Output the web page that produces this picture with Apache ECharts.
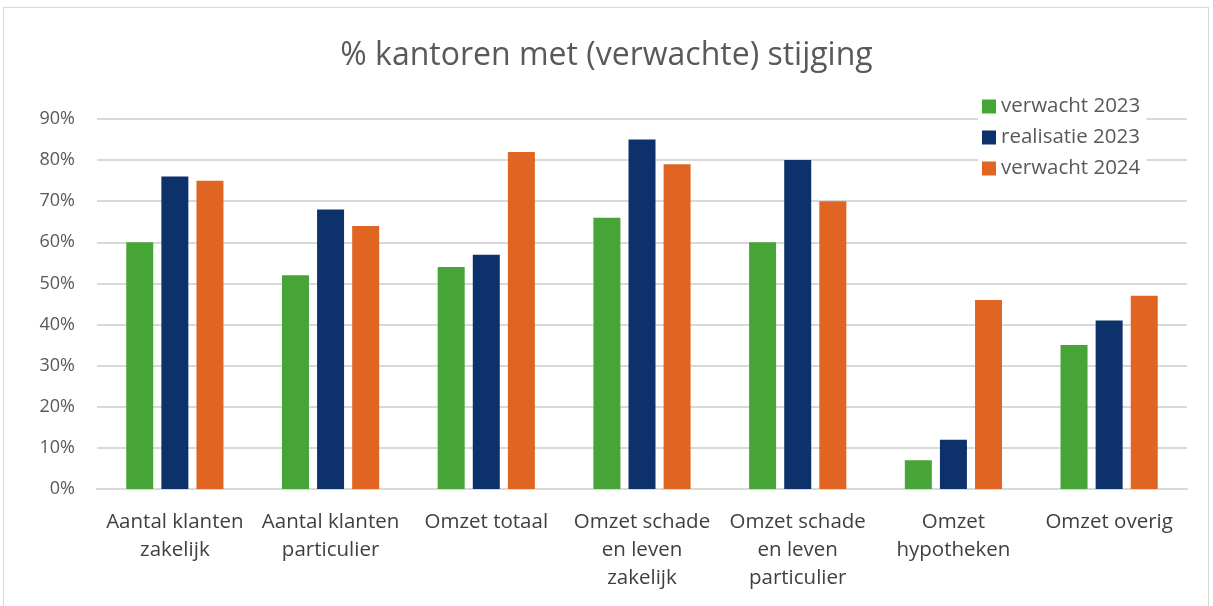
<!DOCTYPE html>
<html>
<head>
<meta charset="utf-8">
<script src="https://cdn.jsdelivr.net/npm/echarts@6/dist/echarts.min.js"></script>
<style>
  html, body { margin: 0; padding: 0; background: #fff; }
  #frame { position: absolute; left: 3px; top: 7px; width: 1206px; height: 610px; border: 1px solid #d9d9d9; box-sizing: border-box; }
  #chart { position: absolute; left: 0; top: 0; width: 1213px; height: 606px; }
</style>
</head>
<body>
<div id="frame"></div>
<div id="chart"></div>
<script>
var categories = ["Aantal klanten\nzakelijk", "Aantal klanten\nparticulier", "Omzet totaal", "Omzet schade\nen leven\nzakelijk", "Omzet schade\nen leven\nparticulier", "Omzet\nhypotheken", "Omzet overig"];
var seriesNames = ["verwacht 2023", "realisatie 2023", "verwacht 2024"];
var verwacht2023 = [60, 52, 54, 66, 60, 7, 35];
var realisatie2023 = [76, 68, 57, 85, 80, 12, 41];
var verwacht2024 = [75, 64, 82, 79, 70, 46, 47];
var colors = ["#47a437", "#0d326b", "#e06522"];

var font = "Open Sans";
var myChart = echarts.init(document.getElementById('chart'));
var option = {
    backgroundColor: "transparent",
    title: {
        text: "% kantoren met (verwachte) stijging",
        left: "center",
        top: 35,
        textStyle: { fontFamily: font, fontSize: 32, fontWeight: "normal", color: "#595959" }
    },
    legend: {
        orient: "vertical",
        left: 978,
        top: 94,
        itemWidth: 14,
        itemHeight: 14,
        itemGap: 10,
        backgroundColor: "#fff",
        padding: [2, 6, 2, 4],
        icon: "rect",
        data: seriesNames,
        textStyle: { fontFamily: font, fontSize: 20.5, color: "#595959", padding: [0, 0, 0, 0] }
    },
    grid: { left: 97, right: 26, top: 119, bottom: 117 },
    xAxis: {
        type: "category",
        data: categories,
        axisTick: { show: false },
        axisLine: { lineStyle: { color: "#d9d9d9", width: 2 } },
        axisLabel: { fontFamily: font, fontSize: 20.5, color: "#404040", lineHeight: 28, margin: 19, interval: 0 }
    },
    yAxis: {
        type: "value",
        min: 0,
        max: 90,
        interval: 10,
        axisLabel: { formatter: "{value}%", fontFamily: font, fontSize: 18, color: "#595959", margin: 22 },
        splitLine: { lineStyle: { color: "#d9d9d9", width: 2 } },
        axisLine: { show: false },
        axisTick: { show: false }
    },
    series: [
        { name: seriesNames[0], type: "bar", data: verwacht2023, barWidth: 27, barGap: "30%", itemStyle: { color: colors[0] }, z: 3 },
        { name: seriesNames[1], type: "bar", data: realisatie2023, barWidth: 27, barGap: "30%", itemStyle: { color: colors[1] }, z: 3 },
        { name: seriesNames[2], type: "bar", data: verwacht2024, barWidth: 27, barGap: "30%", itemStyle: { color: colors[2] }, z: 3 }
    ],
    animation: false
};
myChart.setOption(option);
</script>
</body>
</html>
